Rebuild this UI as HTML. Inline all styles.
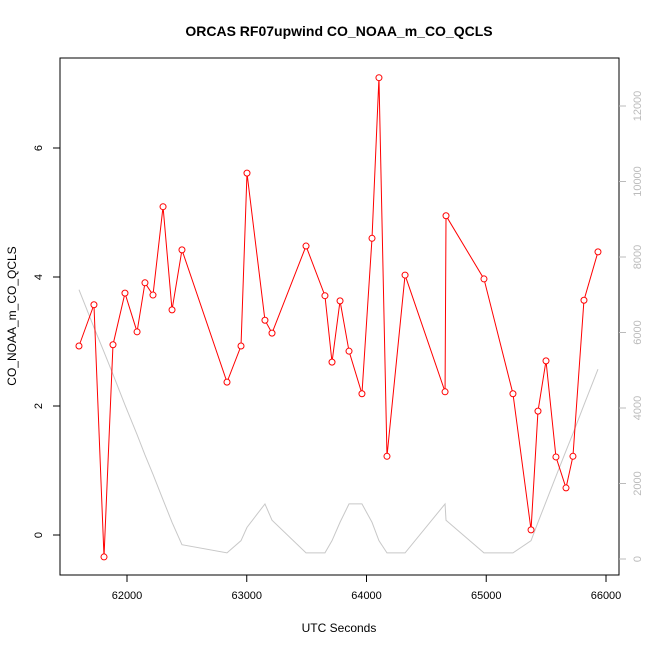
<!DOCTYPE html>
<html><head><meta charset="utf-8"><style>
body{margin:0;background:#fff;}
svg text{font-family:"Liberation Sans",sans-serif;}
</style></head><body>
<svg id="chart" width="650" height="650" xmlns="http://www.w3.org/2000/svg">
<rect width="650" height="650" fill="#fff"/>
<text x="339" y="36" text-anchor="middle" font-size="14" font-weight="bold">ORCAS RF07upwind CO_NOAA_m_CO_QCLS</text>
<text x="339" y="632" text-anchor="middle" font-size="12">UTC Seconds</text>
<text transform="translate(16,316) rotate(-90)" text-anchor="middle" font-size="12">CO_NOAA_m_CO_QCLS</text>
<rect x="60" y="58" width="559" height="517" fill="none" stroke="#000"/>
<g id="axes"></g>
<g id="marks"></g>
</svg>
<script>
const xs=[61599,61724,61808,61883,61983,62084,62150,62217,62301,62376,62459,62835,62952,63002,63152,63211,63495,63653,63712,63779,63854,63962,64046,64104,64171,64322,64656,64664,64981,65223,65374,65432,65499,65582,65666,65724,65816,65933];
const coValues=[2.93,3.57,-0.34,2.95,3.75,3.15,3.91,3.72,5.09,3.49,4.42,2.37,2.93,5.61,3.33,3.13,4.48,3.71,2.68,3.63,2.85,2.19,4.60,7.09,1.22,4.03,2.22,4.95,3.97,2.19,0.08,1.92,2.70,1.21,0.73,1.22,3.64,4.39];
const altValues=[7135,6135,5486,4892,4081,3297,2757,2243,1568,973,378,162,486,838,1459,1027,162,162,486,973,1459,1459,973,486,162,162,1459,1027,162,162,486,973,1514,2189,2865,3324,4081,5027];
const xTicks=[62000,63000,64000,65000,66000];
const yTicks=[0,2,4,6];
const rTicks=[0,2000,4000,6000,8000,10000,12000];
const X=v=>127+(v-62000)*0.11975;
const Y=v=>535-v*64.5;
const R=v=>559-v*0.03775;
const NS="http://www.w3.org/2000/svg";
const ax=document.getElementById('axes'), mk=document.getElementById('marks');
function el(t,a,p){const e=document.createElementNS(NS,t);for(const k in a)e.setAttribute(k,a[k]);p.appendChild(e);return e;}
xTicks.forEach(v=>{
 const l=el('line',{x1:X(v),x2:X(v),y1:575,y2:582,stroke:'#000'},ax);
 
 
 const t=el('text',{x:X(v),y:599,'text-anchor':'middle','font-size':'11'},ax);t.textContent=v;
 
 
});
yTicks.forEach(v=>{
 const l=el('line',{x1:53,x2:60,y1:Y(v),y2:Y(v),stroke:'#000'},ax);
 
 
 const t=el('text',{transform:`translate(42,${Y(v)}) rotate(-90)`,'text-anchor':'middle','font-size':'11'},ax);t.textContent=v;
 
 
});
rTicks.forEach(v=>{
 const l=el('line',{x1:619,x2:626,y1:R(v),y2:R(v),stroke:'#bbb'},ax);
 
 
 const t=el('text',{transform:`translate(641,${R(v)}) rotate(-90)`,'text-anchor':'middle','font-size':'11',fill:'#bbb'},ax);t.textContent=v;
 
 
});
const g=el('polyline',{points:xs.map((x,i)=>X(x)+','+R(altValues[i])).join(' '),fill:'none',stroke:'#c8c8c8'},mk);


const r=el('polyline',{points:xs.map((x,i)=>X(x)+','+Y(coValues[i])).join(' '),fill:'none',stroke:'#ff0000'},mk);


xs.forEach((x,i)=>{
 const c=el('circle',{cx:X(x),cy:Y(coValues[i]),r:3,fill:'#fff',stroke:'#ff0000'},mk);
 
 
});
</script>
</body></html>
